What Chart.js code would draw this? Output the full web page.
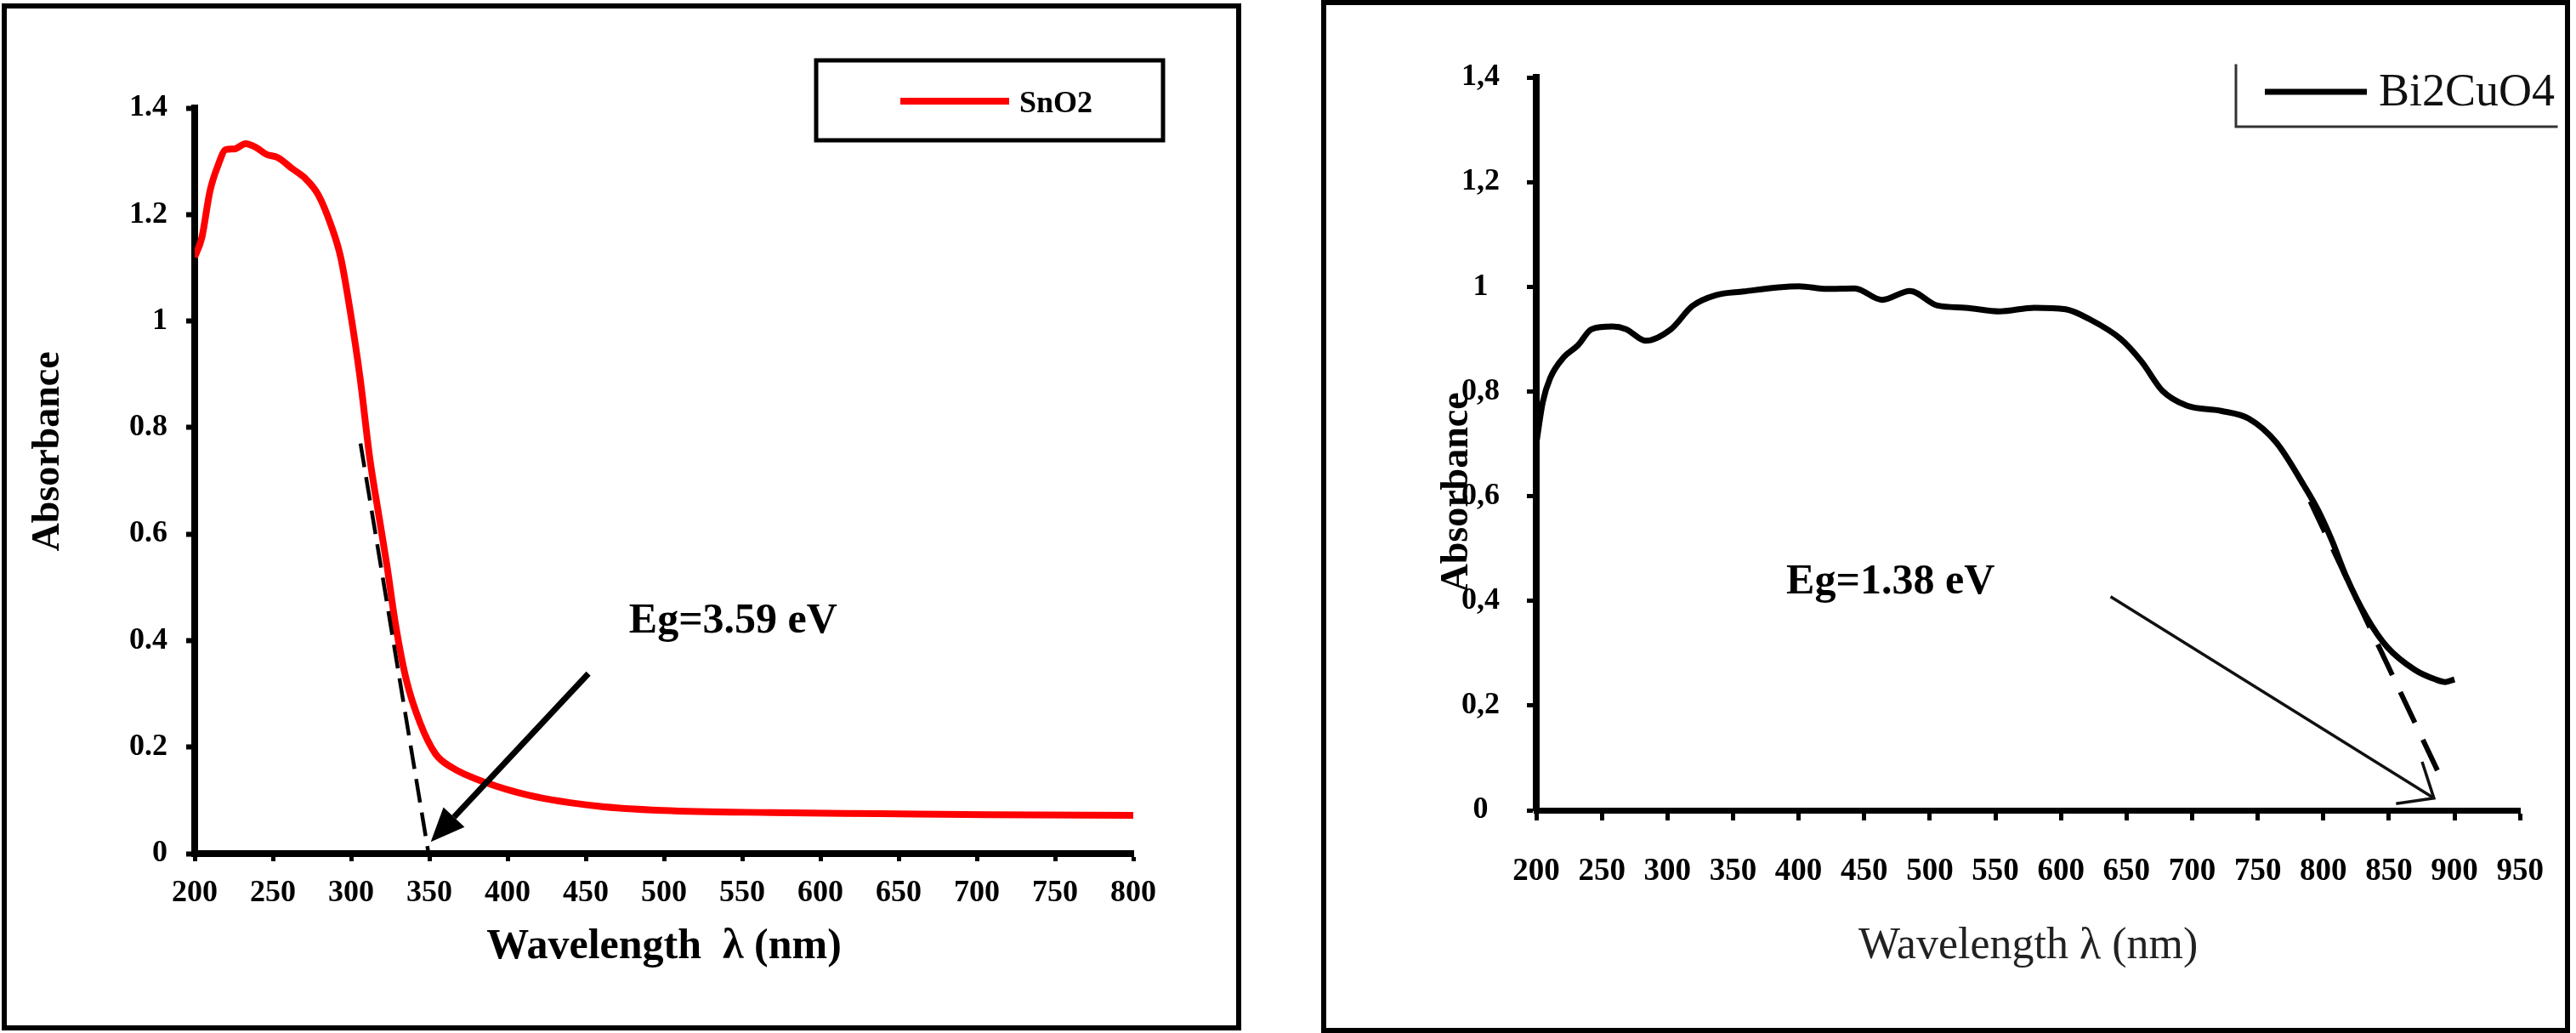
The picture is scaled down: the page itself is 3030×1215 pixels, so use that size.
<!DOCTYPE html>
<html>
<head>
<meta charset="utf-8">
<script src="https://cdn.jsdelivr.net/npm/chart.js@4.4.1/dist/chart.umd.min.js"></script>
<style>
html,body{margin:0;padding:0;background:#fff;}
body{width:3030px;height:1215px;position:relative;overflow:hidden;}
canvas{position:absolute;top:0;}
#cL{left:0;}
#cR{left:1500px;}
.frame{position:absolute;border:6px solid #000;box-sizing:border-box;pointer-events:none;}
</style>
</head>
<body>
<canvas id="cL" width="1500" height="1215"></canvas>
<canvas id="cR" width="1530" height="1215"></canvas>
<div class="frame" style="left:2px;top:4px;width:1458px;height:1208px"></div>
<div class="frame" style="left:1554px;top:0px;width:1469px;height:1215px"></div>
<script>
// ---------------- DATA ----------------
const seriesNames = ['SnO2', 'Bi2CuO4'];

const snO2Wavelength = [200, 204.6, 209.7, 214.9, 220, 225.3, 232.6, 239.7, 245.8, 253, 262.4, 270.6, 279, 287, 293.3, 299.5, 305.7, 312, 318, 323, 328.3, 335.3, 344, 354, 364.8, 385.5, 413, 458, 499.5, 568.6, 637.7, 706.7, 800];
const snO2Absorbance = [1.12, 1.157, 1.243, 1.292, 1.322, 1.323, 1.333, 1.325, 1.313, 1.307, 1.286, 1.268, 1.237, 1.181, 1.12, 1.017, 0.894, 0.741, 0.63, 0.539, 0.432, 0.326, 0.246, 0.187, 0.161, 0.134, 0.110, 0.089, 0.081, 0.077, 0.075, 0.073, 0.072];

const bi2CuO4Wavelength = [200, 205, 210.7, 221.2, 231.7, 242.2, 258.1, 268.5, 283.3, 302.7, 318.9, 337, 358.3, 384.8, 400.3, 421.6, 442.7, 463.6, 484.9, 505.9, 526.9, 553.4, 579.8, 603.5, 621.8, 645.7, 661.5, 677.4, 695.8, 722, 743.3, 764.3, 785.3, 796, 806.6, 817, 832.9, 848.6, 869.9, 885.4, 893, 900];
const bi2CuO4Absorbance = [0.70, 0.78, 0.826, 0.866, 0.888, 0.919, 0.924, 0.919, 0.897, 0.919, 0.963, 0.984, 0.991, 0.999, 1.001, 0.996, 0.997, 0.975, 0.992, 0.964, 0.960, 0.953, 0.960, 0.957, 0.938, 0.900, 0.857, 0.801, 0.773, 0.763, 0.748, 0.702, 0.620, 0.573, 0.515, 0.449, 0.369, 0.312, 0.268, 0.250, 0.245, 0.250];

// band-gap tangent lines
const snO2TangentWavelength = [306, 349.5];
const snO2TangentAbsorbance = [0.77, 0];
const bi2CuO4TangentWavelength = [790, 890];
const bi2CuO4TangentAbsorbance = [0.59, 0.06];

// tick labels
const leftXTickLabels = ['200','250','300','350','400','450','500','550','600','650','700','750','800'];
const leftYTickLabels = ['0','0.2','0.4','0.6','0.8','1','1.2','1.4'];
const rightXTickLabels = ['200','250','300','350','400','450','500','550','600','650','700','750','800','850','900','950'];
const rightYTickLabels = ['0','0,2','0,4','0,6','0,8','1','1,2','1,4'];

// texts
const leftXTitle = 'Wavelength  \u03BB (nm)';
const rightXTitle = 'Wavelength \u03BB (nm)';
const yTitleText = 'Absorbance';
const leftGapText = 'Eg=3.59 eV';
const rightGapText = 'Eg=1.38 eV';

// ---------------- PLUGIN ----------------
const panelDecor = {
  id: 'panelDecor',
  afterDraw(chart, args, o) {
    const ctx = chart.ctx;
    const xs = chart.scales.x, ys = chart.scales.y;
    ctx.save();
    // vertical axis title
    const t = o.yTitle;
    ctx.save();
    ctx.translate(t.x, t.y);
    ctx.rotate(-Math.PI / 2);
    ctx.font = t.font; ctx.fillStyle = t.color;
    ctx.textAlign = 'center'; ctx.textBaseline = 'alphabetic';
    ctx.fillText(t.text, 0, 0);
    ctx.restore();
    // notes
    for (const n of o.notes) {
      ctx.font = n.font; ctx.fillStyle = n.color;
      ctx.textAlign = 'left'; ctx.textBaseline = 'alphabetic';
      ctx.fillText(n.text, xs.getPixelForValue(n.x), ys.getPixelForValue(n.y));
    }
    // arrows
    for (const a of o.arrows) {
      const x1 = xs.getPixelForValue(a.from[0]), y1 = ys.getPixelForValue(a.from[1]);
      const x2 = xs.getPixelForValue(a.to[0]), y2 = ys.getPixelForValue(a.to[1]);
      const ang = Math.atan2(y2 - y1, x2 - x1);
      ctx.strokeStyle = a.color; ctx.fillStyle = a.color; ctx.lineWidth = a.width;
      ctx.lineCap = 'butt'; ctx.lineJoin = 'miter';
      if (a.filled) {
        const bx = x2 - a.headLen * Math.cos(ang), by = y2 - a.headLen * Math.sin(ang);
        ctx.beginPath(); ctx.moveTo(x1, y1); ctx.lineTo(bx, by); ctx.stroke();
        ctx.beginPath(); ctx.moveTo(x2, y2);
        ctx.lineTo(bx + a.headHalf * Math.sin(ang), by - a.headHalf * Math.cos(ang));
        ctx.lineTo(bx - a.headHalf * Math.sin(ang), by + a.headHalf * Math.cos(ang));
        ctx.closePath(); ctx.fill();
      } else {
        ctx.beginPath(); ctx.moveTo(x1, y1); ctx.lineTo(x2, y2); ctx.stroke();
        ctx.beginPath();
        ctx.moveTo(x2 - a.headLen * Math.cos(ang - a.headAng), y2 - a.headLen * Math.sin(ang - a.headAng));
        ctx.lineTo(x2, y2);
        ctx.lineTo(x2 - a.headLen * Math.cos(ang + a.headAng), y2 - a.headLen * Math.sin(ang + a.headAng));
        ctx.stroke();
      }
    }
    // legend
    const L = o.legend;
    const ds = chart.data.datasets[L.datasetIndex];
    ctx.strokeStyle = L.frameColor; ctx.lineWidth = L.frameWidth;
    if (L.rect) {
      ctx.strokeRect(L.rect[0], L.rect[1], L.rect[2], L.rect[3]);
    } else {
      ctx.lineCap = 'square';
      ctx.beginPath();
      for (const s of L.segments) { ctx.moveTo(s[0], s[1]); ctx.lineTo(s[2], s[3]); }
      ctx.stroke();
    }
    ctx.lineCap = 'butt';
    ctx.strokeStyle = ds.borderColor; ctx.lineWidth = ds.borderWidth;
    ctx.beginPath(); ctx.moveTo(L.lineX1, L.lineY); ctx.lineTo(L.lineX2, L.lineY); ctx.stroke();
    ctx.font = L.font; ctx.fillStyle = L.color;
    ctx.textAlign = 'left'; ctx.textBaseline = 'alphabetic';
    ctx.fillText(ds.label, L.textX, L.textY);
    ctx.restore();
  }
};

const toPoints = (xs, ys) => xs.map((x, i) => ({x: x, y: ys[i]}));
const SERIF = "'Liberation Serif', 'Times New Roman', serif";

// ---------------- LEFT CHART ----------------
new Chart(document.getElementById('cL'), {
  type: 'line',
  data: {
    datasets: [
      {
        label: 'tangent', order: 0,
        data: toPoints(snO2TangentWavelength, snO2TangentAbsorbance),
        borderColor: '#000', borderWidth: 4.5, borderDash: [28, 12],
        pointRadius: 0, tension: 0
      },
      {
        label: seriesNames[0], order: 1,
        data: toPoints(snO2Wavelength, snO2Absorbance),
        borderColor: '#ff0000', borderWidth: 8,
        pointRadius: 0, cubicInterpolationMode: 'monotone'
      }
    ]
  },
  options: {
    responsive: false, animation: false, events: [],
    devicePixelRatio: 1,
    layout: { padding: { left: 0, top: 127, right: 167, bottom: 0 } },
    plugins: {
      legend: { display: false }, tooltip: { enabled: false },
      panelDecor: {
        yTitle: { text: yTitleText, x: 69, y: 531, font: 'bold 46px ' + SERIF, color: '#000' },
        notes: [ { text: leftGapText, x: 477.6, y: 0.415, font: 'bold 50px ' + SERIF, color: '#000' } ],
        arrows: [ { from: [451.7, 0.338], to: [350.9, 0.022], width: 7, color: '#000', filled: true, headLen: 40, headHalf: 17 } ],
        legend: {
          datasetIndex: 1, rect: [960, 71, 408, 94], frameColor: '#000', frameWidth: 5,
          lineX1: 1059, lineX2: 1187, lineY: 119,
          textX: 1199, textY: 132, font: 'bold 36px ' + SERIF, color: '#000'
        }
      }
    },
    scales: {
      x: {
        type: 'linear', min: 200, max: 800,
        afterFit: s => { s.height = 211; },
        ticks: { stepSize: 50, autoSkip: false, maxRotation: 0, padding: 16, color: '#000',
                 font: { family: SERIF, size: 36, weight: 'bold' },
                 callback: (v, i) => leftXTickLabels[i] },
        grid: { display: true, drawOnChartArea: false, drawTicks: true, tickLength: 9, tickWidth: 5, color: '#000' },
        border: { display: true, width: 8, color: '#000' },
        title: { display: true, text: leftXTitle, color: '#000', padding: { top: 0, bottom: 71 },
                 font: { family: SERIF, size: 50, weight: 'bold' } }
      },
      y: {
        type: 'linear', min: 0, max: 1.4,
        afterFit: s => { s.width = 229; },
        ticks: { stepSize: 0.2, autoSkip: false, padding: 22, color: '#000',
                 font: { family: SERIF, size: 36, weight: 'bold' },
                 callback: (v, i) => leftYTickLabels[i] },
        grid: { display: true, drawOnChartArea: false, drawTicks: true, tickLength: 10, tickWidth: 6, color: '#000' },
        border: { display: true, width: 8, color: '#000' }
      }
    }
  },
  plugins: [panelDecor]
});

// ---------------- RIGHT CHART ----------------
new Chart(document.getElementById('cR'), {
  type: 'line',
  data: {
    datasets: [
      {
        label: 'tangent', order: 0,
        data: toPoints(bi2CuO4TangentWavelength, bi2CuO4TangentAbsorbance),
        borderColor: '#000', borderWidth: 6, borderDash: [40, 22],
        pointRadius: 0, tension: 0
      },
      {
        label: seriesNames[1], order: 1,
        data: toPoints(bi2CuO4Wavelength, bi2CuO4Absorbance),
        borderColor: '#000', borderWidth: 7,
        pointRadius: 0, cubicInterpolationMode: 'monotone'
      }
    ]
  },
  options: {
    responsive: false, animation: false, events: [],
    devicePixelRatio: 1,
    layout: { padding: { left: 0, top: 91, right: 62, bottom: 0 } },
    plugins: {
      legend: { display: false }, tooltip: { enabled: false },
      panelDecor: {
        yTitle: { text: yTitleText, x: 226, y: 579, font: 'bold 46px ' + SERIF, color: '#000' },
        notes: [ { text: rightGapText, x: 390.6, y: 0.414, font: 'bold 50px ' + SERIF, color: '#000' } ],
        arrows: [ { from: [637.8, 0.408], to: [884.3, 0.023], width: 3.5, color: '#111', filled: false, headLen: 45, headAng: 0.7 } ],
        legend: {
          datasetIndex: 1, segments: [[1130, 77, 1130, 149], [1130, 149, 1507, 149]],
          frameColor: '#333', frameWidth: 3,
          lineX1: 1164, lineX2: 1284, lineY: 108,
          textX: 1298, textY: 124, font: '54px ' + SERIF, color: '#111'
        }
      }
    },
    scales: {
      x: {
        type: 'linear', min: 200, max: 950,
        afterFit: s => { s.height = 262; },
        ticks: { stepSize: 50, autoSkip: false, maxRotation: 0, padding: 38, color: '#000',
                 font: { family: SERIF, size: 37, weight: 'bold' },
                 callback: (v, i) => rightXTickLabels[i] },
        grid: { display: true, drawOnChartArea: false, drawTicks: true, tickLength: 12, tickWidth: 5, color: '#000' },
        border: { display: true, width: 7, color: '#000' },
        title: { display: true, text: rightXTitle, color: '#222', padding: { top: 0, bottom: 70 },
                 font: { family: SERIF, size: 52, weight: 'normal' } }
      },
      y: {
        type: 'linear', min: 0, max: 1.4,
        afterFit: s => { s.width = 307; },
        ticks: { stepSize: 0.2, autoSkip: false, padding: 32, crossAlign: 'center', color: '#000',
                 font: { family: SERIF, size: 36, weight: 'bold' },
                 callback: (v, i) => rightYTickLabels[i] },
        grid: { display: true, drawOnChartArea: false, drawTicks: true, tickLength: 11, tickWidth: 5, color: '#000' },
        border: { display: true, width: 8, color: '#000' }
      }
    }
  },
  plugins: [panelDecor]
});
</script>
</body>
</html>
